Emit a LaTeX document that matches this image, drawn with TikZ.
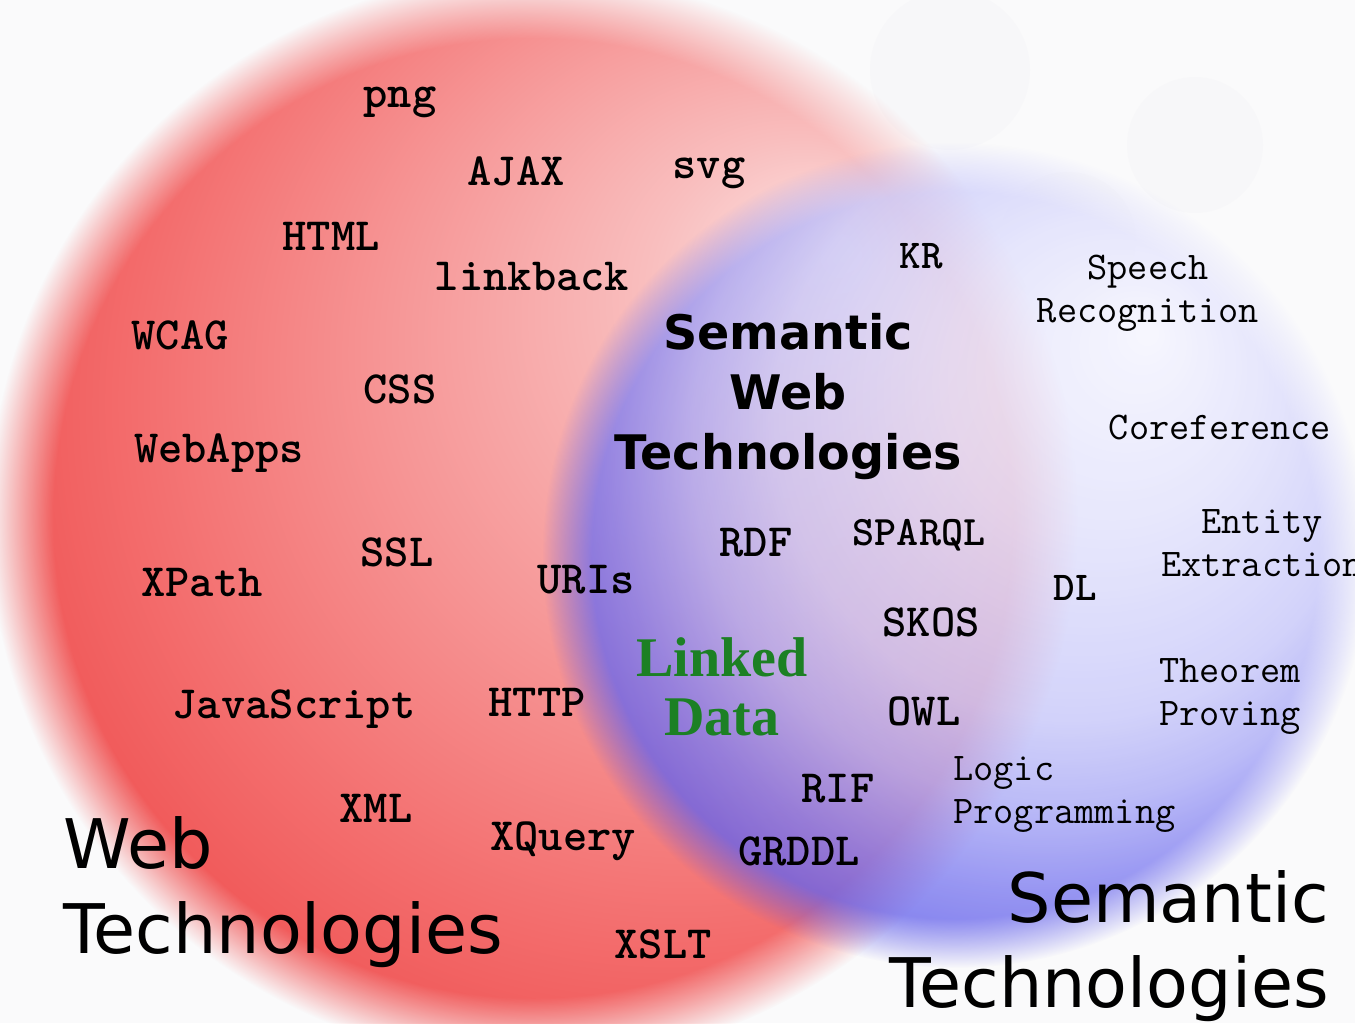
\documentclass[tikz,border=0pt]{standalone}
\usepackage{fontspec}
\usetikzlibrary{fadings}
\newfontfamily\dejavufont{DejaVu Sans}
\newfontfamily\timesfont{Liberation Serif}

\definecolor{paper}{RGB}{250,250,251}
\definecolor{bokeh}{RGB}{228,228,232}
\definecolor{ldgreen}{RGB}{28,128,36}

\pgfdeclareradialshading{webshade}{\pgfpoint{14.5bp}{12.3bp}}{%
  rgb(0bp)=(0.988,0.894,0.894);
  rgb(7bp)=(0.976,0.745,0.745);
  rgb(16bp)=(0.965,0.588,0.588);
  rgb(25bp)=(0.953,0.424,0.424);
  rgb(30bp)=(0.941,0.337,0.337);
  rgb(45bp)=(0.925,0.294,0.294)}
\pgfdeclareradialshading{semshade}{\pgfpoint{11.8bp}{13.6bp}}{%
  rgb(0bp)=(0.965,0.965,1.0);
  rgb(10bp)=(0.878,0.878,0.992);
  rgb(18bp)=(0.784,0.784,0.980);
  rgb(22bp)=(0.667,0.667,0.969);
  rgb(26bp)=(0.490,0.482,0.941);
  rgb(30bp)=(0.345,0.333,0.910);
  rgb(45bp)=(0.322,0.310,0.906)}
\pgfdeclareradialshading{softedge}{\pgfpointorigin}{color(0bp)=(white); color(44bp)=(white); color(50bp)=(black)}
\pgfdeclarefading{softdisc}{\pgfuseshading{softedge}}

\begin{document}
\begin{tikzpicture}[x=0.5pt, y=-0.5pt,
	word/.style={inner sep=0pt, text height=14.3pt, text depth=3.9pt,
		font=\ttfamily\bfseries\fontsize{23.1}{27}\selectfont},
	kword/.style={inner sep=0pt, text height=12.7pt, text depth=3.5pt,
		font=\ttfamily\bfseries\fontsize{20.5}{24}\selectfont},
	thinword/.style={inner sep=0pt, align=center,
		font=\ttfamily\fontsize{19.6}{21.5}\selectfont},
	bigtitle/.style={inner sep=0pt, font=\dejavufont\fontsize{34.2}{42.5}\selectfont}]

	\useasboundingbox (0,0) rectangle (1355,1023);
	\fill[paper] (0,0) rectangle (1355,1023);
	\fill[bokeh, opacity=0.1] (950,70) circle (40pt);
	\fill[bokeh, opacity=0.1] (1195,145) circle (34pt);
	\fill[bokeh, opacity=0.08] (1068,240) circle (34pt);

	\shade[shading=webshade, path fading=softdisc, fit fading=false,
		fading transform={shift={(533,518)}, scale=5.43}] (533,518) circle (272.5pt);
	\shade[shading=semshade, opacity=0.78, path fading=softdisc, fit fading=false,
		fading transform={shift={(955,555)}, scale=4.115}] (955,555) circle (206.5pt);

	\node[word] (png) at (400,97) {png};
	\node[word] (ajax) at (516,175) {AJAX};
	\node[word] (svg) at (709,168) {svg};
	\node[word] (html) at (331,240) {HTML};
	\node[word] (linkback) at (532,280) {linkback};
	\node[word] (wcag) at (180,339) {WCAG};
	\node[word] (css) at (400,393) {CSS};
	\node[word] (webapps) at (219,452) {WebApps};
	\node[word] (ssl) at (397,556) {SSL};
	\node[word] (xpath) at (202,586) {XPath};
	\node[word] (uris) at (586,583) {URIs};
	\node[word] (javascript) at (294,708) {JavaScript};
	\node[word] (http) at (537,706) {HTTP};
	\node[word] (xml) at (376,812) {XML};
	\node[word] (xquery) at (563,840) {XQuery};
	\node[word] (xslt) at (663,948) {XSLT};

	\node[word] (rdf) at (756,546) {RDF};
	\node[word, font=\ttfamily\bfseries\fontsize{21}{25}\selectfont] (sparql) at (919,535) {SPARQL};
	\node[word] (skos) at (931,626) {SKOS};
	\node[word] (owl) at (924,715) {OWL};
	\node[word] (rif) at (838,792) {RIF};
	\node[word] (grddl) at (799,855) {GRDDL};
	\node[kword] (kr) at (921,259) {KR};
	\node[kword] (dl) at (1075,591) {DL};

	\node[thinword] (speech) at (1148,293) {Speech\\Recognition};
	\node[thinword] (coref) at (1220,428) {Coreference};
	\node[thinword] (entity) at (1262,543) {Entity\\Extraction};
	\node[thinword] (theorem) at (1230,697) {Theorem\\Proving};
	\node[thinword, align=left, anchor=west] (logic) at (953,795) {Logic\\Programming};

	\node[inner sep=0pt, align=center, font=\dejavufont\bfseries\fontsize{23.8}{30}\selectfont]
		(swt) at (788,397) {Semantic\\Web\\Technologies};
	\node[inner sep=0pt, align=center, text=ldgreen, font=\timesfont\bfseries\fontsize{28}{29.5}\selectfont]
		(linked) at (722,687) {Linked\\Data};

	\node[bigtitle, align=left, anchor=west] (webtech) at (63,892) {Web\\Technologies};
	\node[bigtitle, align=right, anchor=east] (semtech) at (1329,946) {Semantic\\Technologies};

\end{tikzpicture}
\end{document}
